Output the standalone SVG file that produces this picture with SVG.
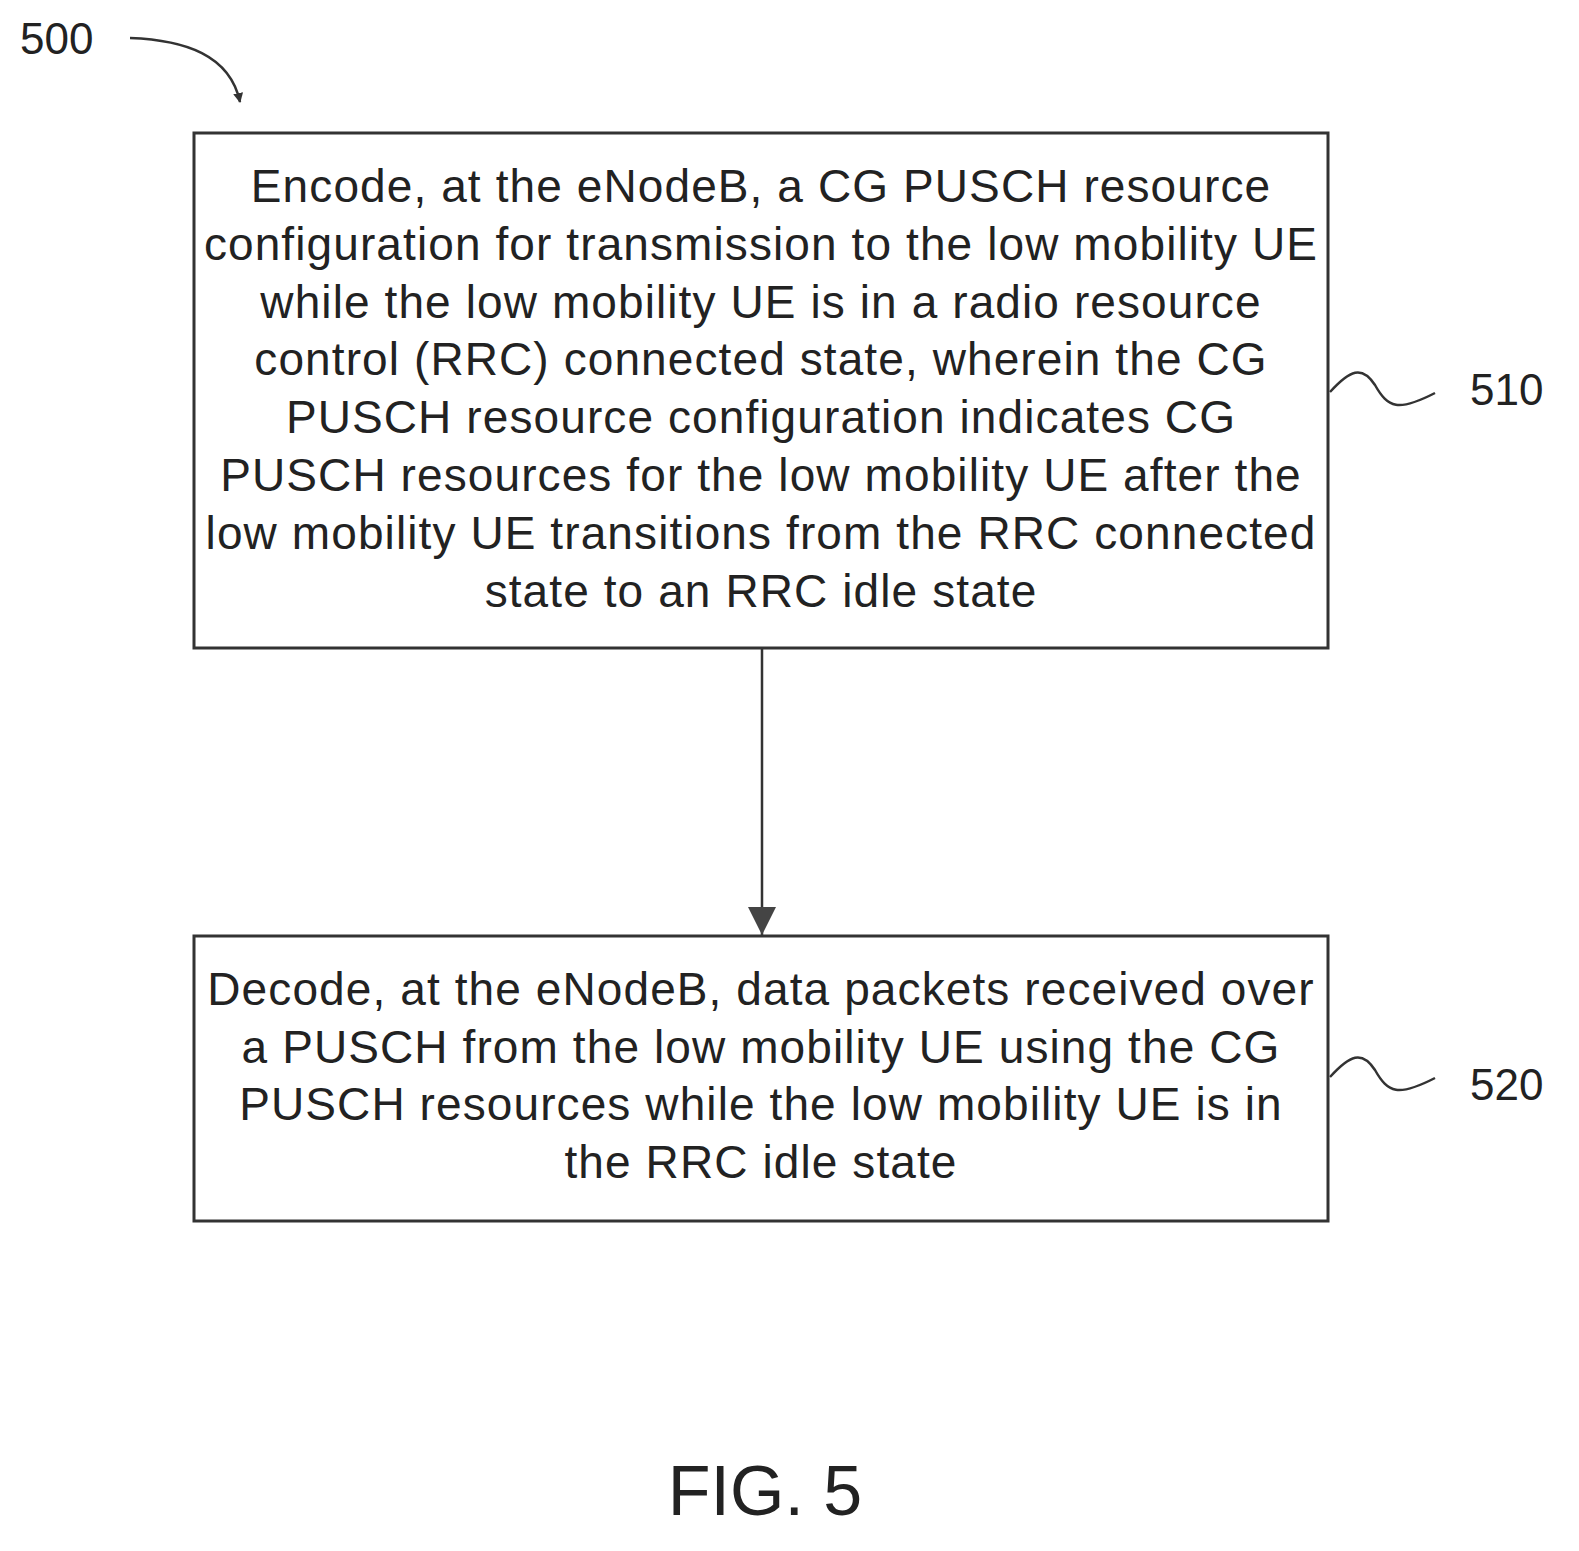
<svg xmlns="http://www.w3.org/2000/svg" width="1579" height="1551" viewBox="0 0 1579 1551">
<style>
.t{font-family:"Liberation Sans",Arial,sans-serif;font-size:46px;letter-spacing:1.1px;fill:#222;text-anchor:middle}
.l{font-family:"Liberation Sans",Arial,sans-serif;font-size:44px;fill:#222}
.b{fill:#fff;stroke:#333;stroke-width:3}
.c{fill:none;stroke:#333;stroke-width:2.5}
</style>
<defs><marker id="a" viewBox="0 0 10 10" refX="9" refY="5" markerWidth="10" markerHeight="10" markerUnits="userSpaceOnUse" orient="auto"><path d="M0,0L10,5L0,10z" fill="#333"/></marker>
<marker id="big" viewBox="0 0 10 10" refX="10" refY="5" markerWidth="38" markerHeight="28" markerUnits="userSpaceOnUse" orient="auto"><path d="M0,0L10,5L0,10z" fill="#444"/></marker></defs>
<rect width="1579" height="1551" fill="#fff"/>
<g id="n510"><rect class="b" x="194" y="133" width="1134" height="515"/>
<text class="t"><tspan x="761" y="202">Encode, at the eNodeB, a CG PUSCH resource</tspan><tspan x="761" y="260">configuration for transmission to the low mobility UE</tspan><tspan x="761" y="318">while the low mobility UE is in a radio resource</tspan><tspan x="761" y="375">control (RRC) connected state, wherein the CG</tspan><tspan x="761" y="433">PUSCH resource configuration indicates CG</tspan><tspan x="761" y="491">PUSCH resources for the low mobility UE after the</tspan><tspan x="761" y="549">low mobility UE transitions from the RRC connected</tspan><tspan x="761" y="607">state to an RRC idle state</tspan></text></g>
<g id="n520"><rect class="b" x="194" y="936" width="1134" height="285"/>
<text class="t"><tspan x="761" y="1005">Decode, at the eNodeB, data packets received over</tspan><tspan x="761" y="1063">a PUSCH from the low mobility UE using the CG</tspan><tspan x="761" y="1120">PUSCH resources while the low mobility UE is in</tspan><tspan x="761" y="1178">the RRC idle state</tspan></text></g>
<g id="connectors">
<line class="c" x1="762" y1="648" x2="762" y2="935" marker-end="url(#big)"/>
<path class="c" d="M130,38 C185,40 230,55 240,102" marker-end="url(#a)"/>
<path class="c" d="M1330,392 C1350,370 1362,365 1375,385 C1388,408 1398,412 1435,393"/>
<path class="c" d="M1330,1077 C1350,1055 1362,1050 1375,1070 C1388,1093 1398,1097 1435,1078"/>
</g>
<g id="labels">
<text class="l" x="20" y="54">500</text>
<text class="l" x="1470" y="405">510</text>
<text class="l" x="1470" y="1100">520</text>
<text class="l" x="765" y="1515" style="font-size:70px;text-anchor:middle">FIG. 5</text>
</g>
</svg>
